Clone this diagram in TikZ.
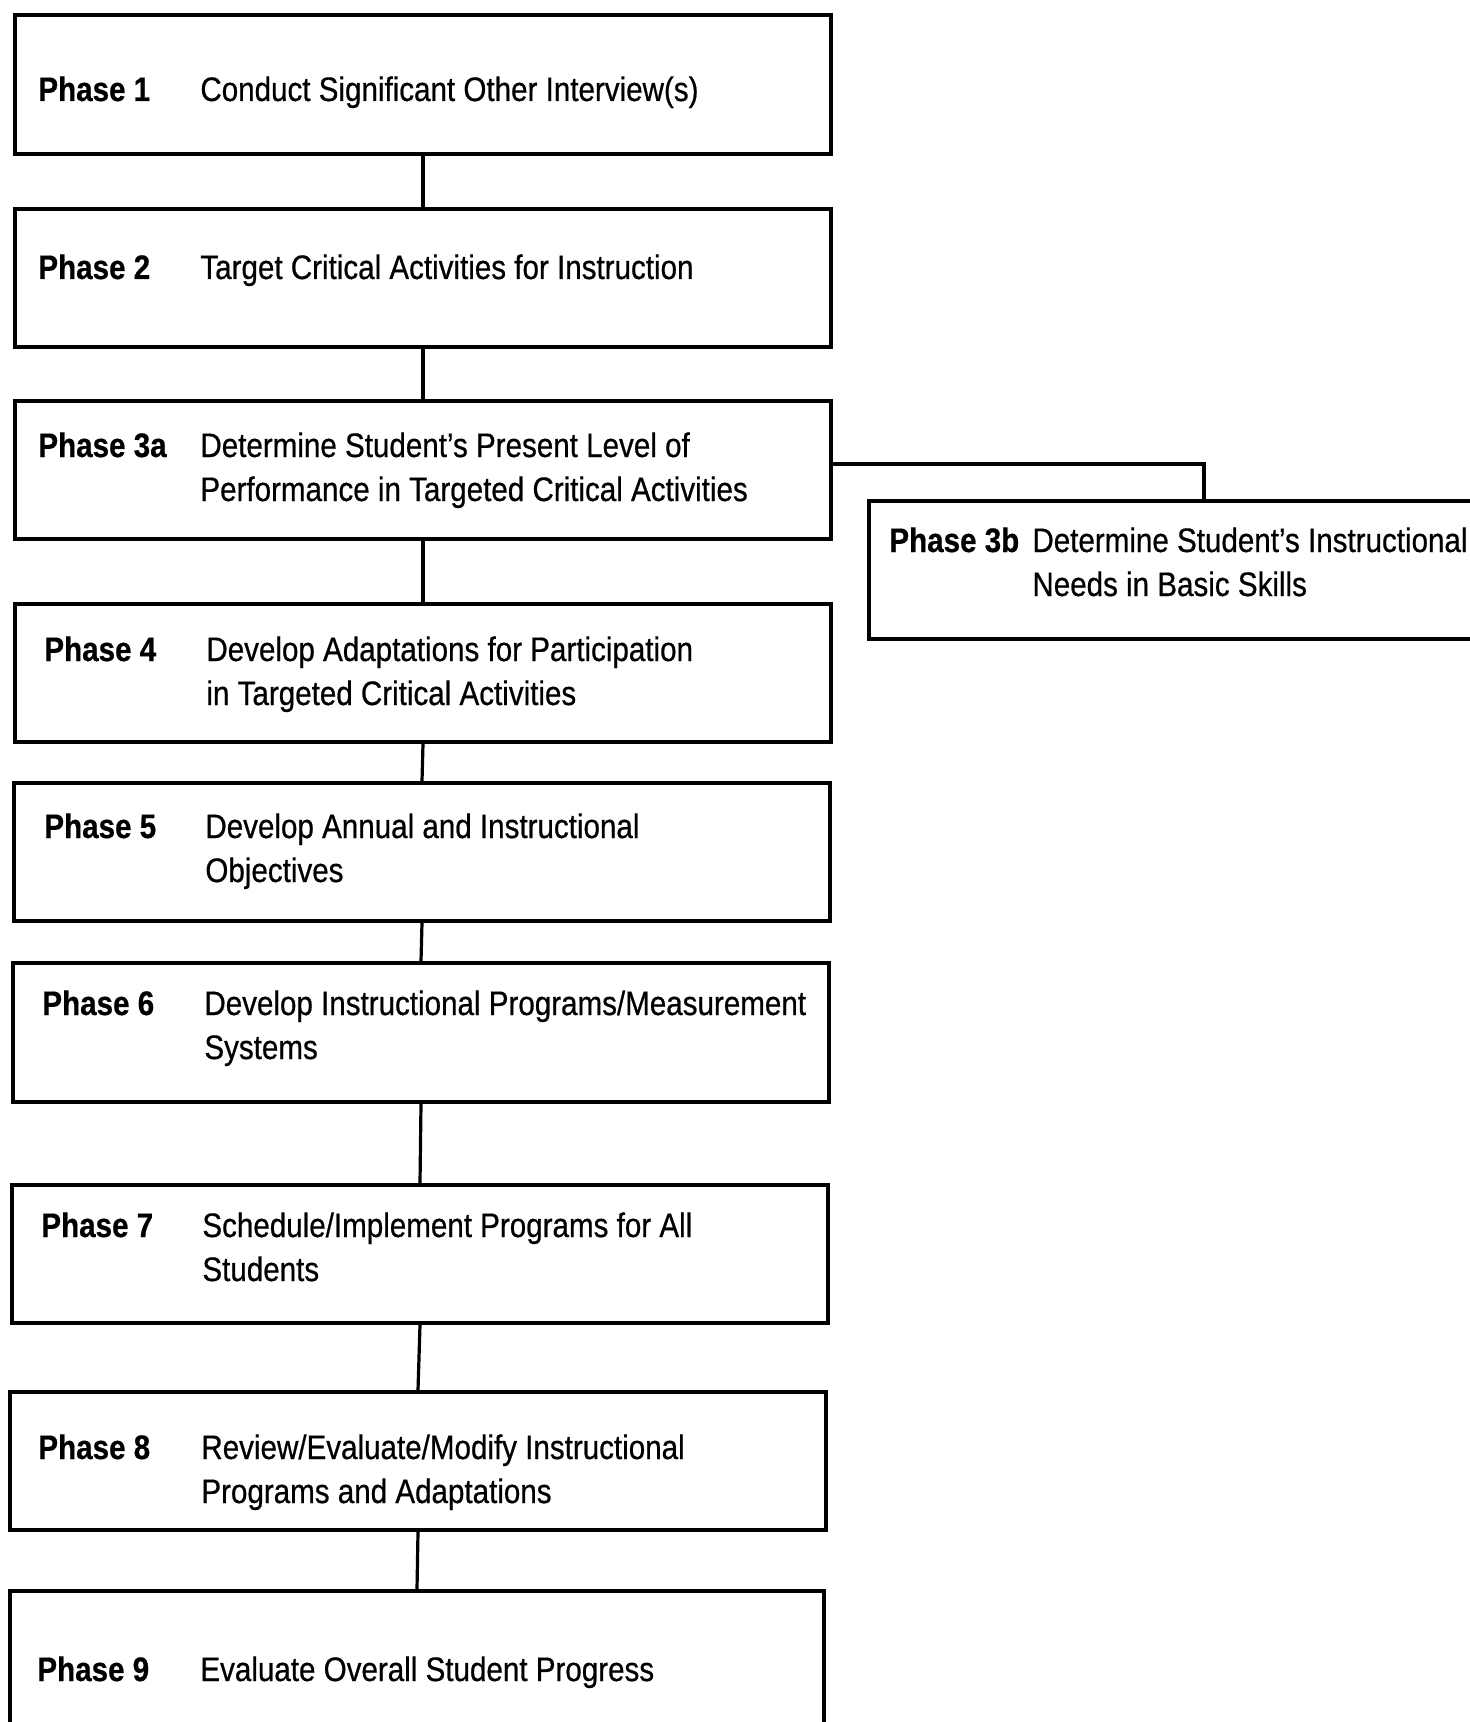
\documentclass[tikz,border=0pt]{standalone}
\usepackage{fontspec}
\setmainfont{Liberation Sans}[FakeStretch=0.87,FakeBold=0.6]
\usetikzlibrary{fit}
\begin{document}
\begin{tikzpicture}[x=0.5pt,y=-0.5pt,
  box/.style={draw,line width=1.8pt,inner sep=0pt,rectangle},
  link/.style={line width=1.6pt},
  ph/.style={anchor=base west,inner sep=0pt,font=\fontsize{17}{22}\selectfont\bfseries},
  ds/.style={anchor=base west,inner sep=0pt,align=left,font=\fontsize{17}{22}\selectfont}]
\useasboundingbox (0,0) rectangle (1470,1722);
\clip (0,0) rectangle (1470,1722);
% boxes
\node[box,fit={(15,15) (831,154)}] (b1) {};
\node[box,fit={(15,209) (831,347)}] (b2) {};
\node[box,fit={(15,401) (831,539)}] (b3a) {};
\node[box,fit={(869,501) (1490,639)}] (b3b) {};
\node[box,fit={(15,604) (831,742)}] (b4) {};
\node[box,fit={(14,783) (830,921)}] (b5) {};
\node[box,fit={(13,963) (829,1102)}] (b6) {};
\node[box,fit={(12,1185) (828,1323)}] (b7) {};
\node[box,fit={(10,1392) (826,1530)}] (b8) {};
\node[box,fit={(10,1591) (824,1740)}] (b9) {};
% texts (two-line nodes are placed at the baseline of their last line)
\node[ph] (p1) at (38,101) {Phase 1};
\node[ds] (d1) at (200,101) {Conduct Significant Other Interview(s)};
\node[ph] (p2) at (38,279) {Phase 2};
\node[ds] (d2) at (200,279) {Target Critical Activities for Instruction};
\node[ph] (p3a) at (38,457) {Phase 3a};
\node[ds] (d3a) at (200,501) {Determine Student's Present Level of\\Performance in Targeted Critical Activities};
\node[ph] (p3b) at (889,552) {Phase 3b};
\node[ds] (d3b) at (1032,596) {Determine Student's Instructional\\Needs in Basic Skills};
\node[ph] (p4) at (44,661) {Phase 4};
\node[ds] (d4) at (206,705) {Develop Adaptations for Participation\\in Targeted Critical Activities};
\node[ph] (p5) at (44,838) {Phase 5};
\node[ds] (d5) at (205,882) {Develop Annual and Instructional\\Objectives};
\node[ph] (p6) at (42,1015) {Phase 6};
\node[ds] (d6) at (204,1059) {Develop Instructional Programs/Measurement\\Systems};
\node[ph] (p7) at (41,1237) {Phase 7};
\node[ds] (d7) at (202,1281) {Schedule/Implement Programs for All\\Students};
\node[ph] (p8) at (38,1459) {Phase 8};
\node[ds] (d8) at (201,1503) {Review/Evaluate/Modify Instructional\\Programs and Adaptations};
\node[ph] (p9) at (37,1681) {Phase 9};
\node[ds] (d9) at (200,1681) {Evaluate Overall Student Progress};
% connectors
\coordinate (j3b) at (1204,501);
\draw[link] (b1.south) -- (b2.north);
\draw[link] (b2.south) -- (b3a.north);
\draw[link] (b3a.south) -- (b4.north);
\draw[link] (b4.south) -- (b5.north);
\draw[link] (b5.south) -- (b6.north);
\draw[link] (b6.south) -- (b7.north);
\draw[link] (b7.south) -- (b8.north);
\draw[link] (b8.south) -- (b9.north);
\draw[link] ([yshift=3pt]b3a.east) -| (j3b);
\end{tikzpicture}
\end{document}
